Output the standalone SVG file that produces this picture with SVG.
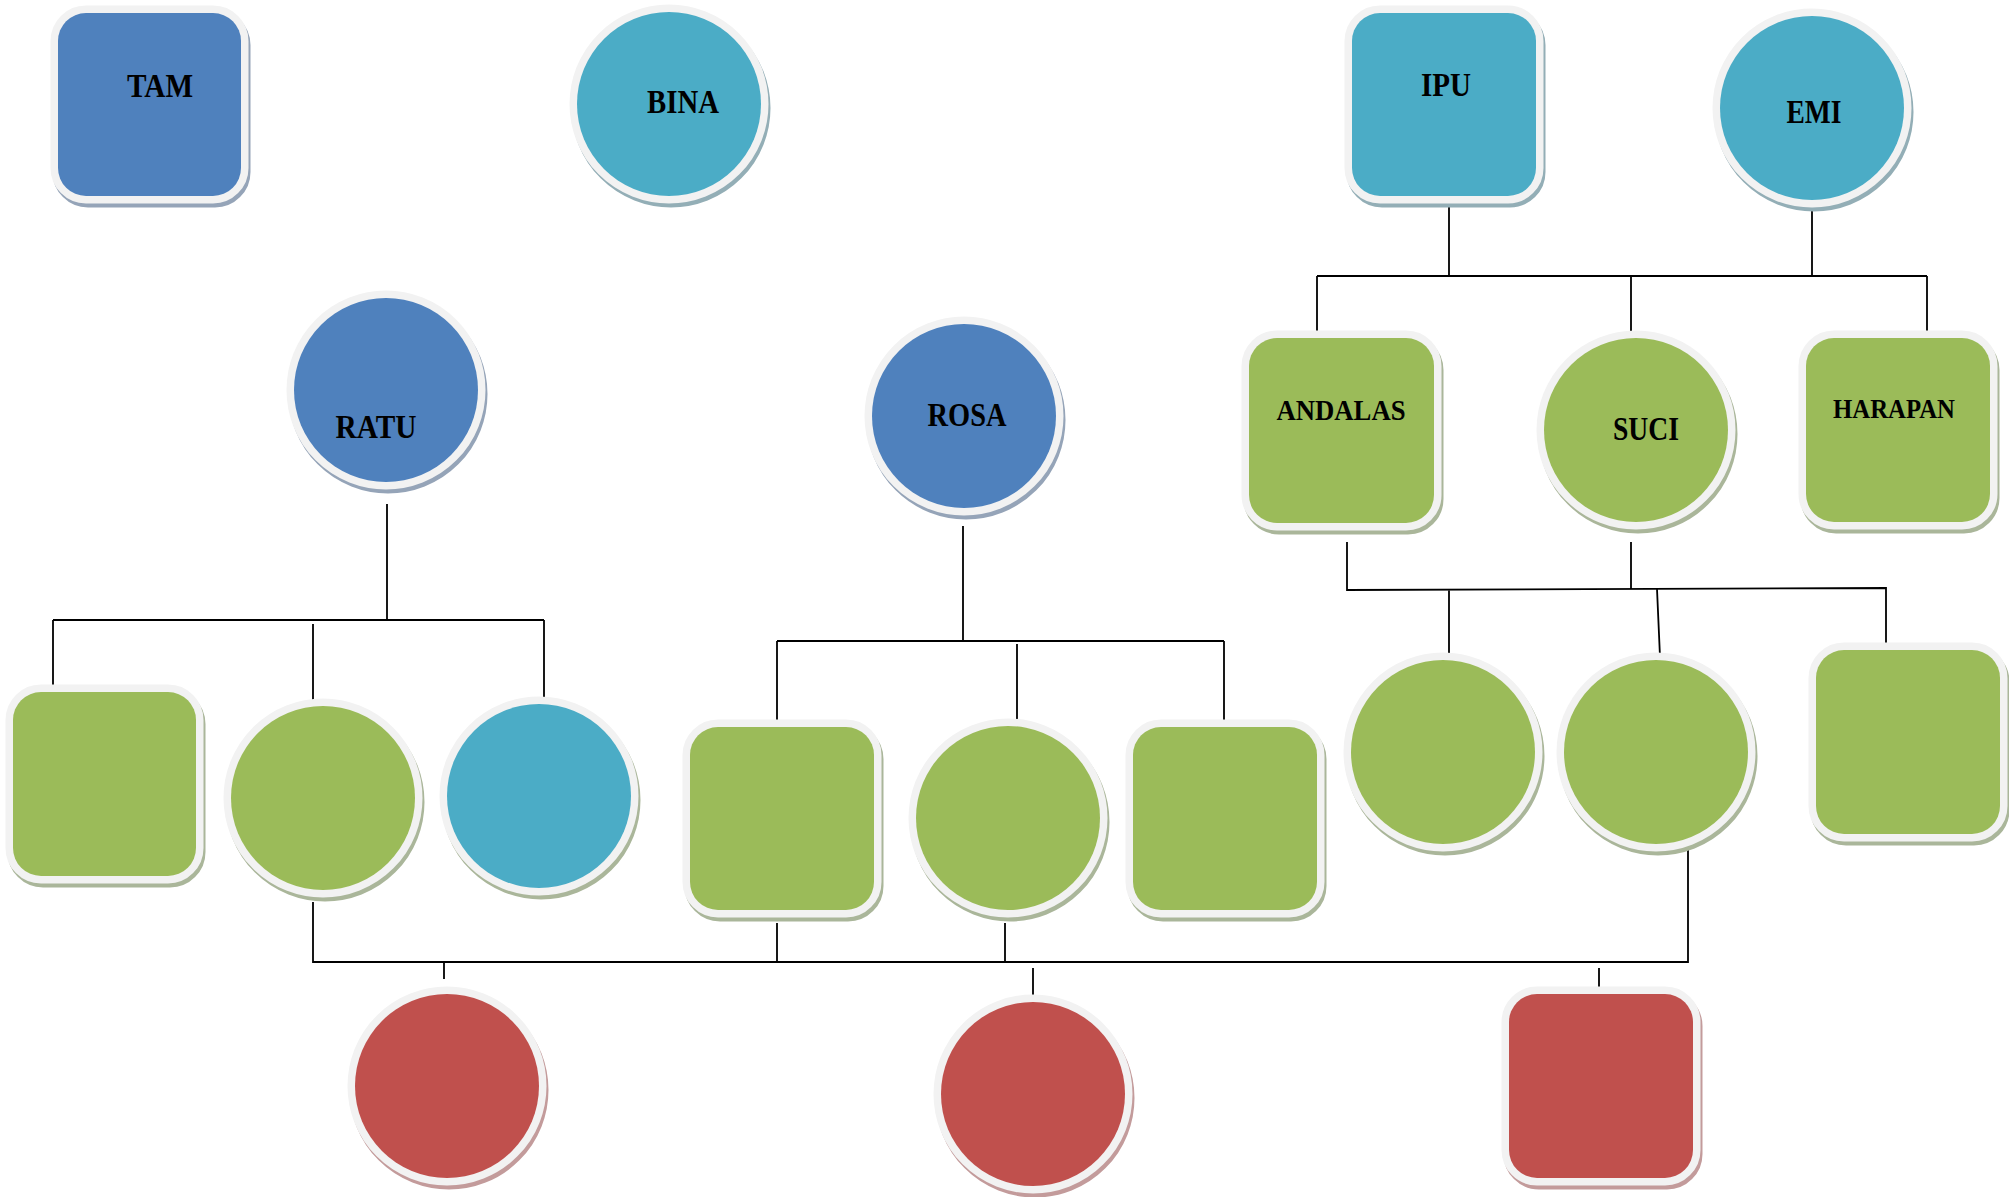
<svg xmlns="http://www.w3.org/2000/svg" width="2009" height="1197" viewBox="0 0 2009 1197">
<style>
.nd{stroke:#F2F2F2;stroke-width:15;paint-order:stroke}
.sh{stroke-width:15}
.blue{fill:#4F81BD}
.cyan{fill:#4BACC6}
.green{fill:#9BBB59}
.red{fill:#C0504D}
.sblue{fill:#95A4B8;stroke:#95A4B8}
.scyan{fill:#93AEB6;stroke:#93AEB6}
.sgreen{fill:#AAB69A;stroke:#AAB69A}
.sred{fill:#C39B9B;stroke:#C39B9B}
.lbl{font-family:"Liberation Serif","Times New Roman",serif;font-weight:bold;font-size:33px;fill:#000;text-anchor:middle}
.cn{fill:none;stroke:#000;stroke-width:1.8}
</style>
<rect width="2009" height="1197" fill="#fff"/>
<g id="connectors">
<path class="cn" d="M1449 205V276M1317 276H1927M1812 211V276M1317 276V335M1631 276V335M1927 276V335"/>
<path class="cn" d="M387 504V620M53 620H544M53 620V688M313 624V702M544 620V700"/>
<path class="cn" d="M963 526V641M777 641H1224M777 641V720M1017 644V722M1224 641V722"/>
<path class="cn" d="M1347 542V590L1886 588V647M1631 542V589M1449 590V657M1657 589L1660 657"/>
<path class="cn" d="M313 902V962H1688V849M777 923V962M1005 923V962M444 962V979M1033 968V999M1599 968V991"/>
</g>
<g id="tam">
<rect class="sh sblue" x="60" y="17" width="183" height="183" rx="28"/>
<rect class="nd blue" x="58" y="13" width="183" height="183" rx="28"/>
<text class="lbl" x="160" y="97" textLength="66" lengthAdjust="spacingAndGlyphs">TAM</text>
</g>
<g id="bina">
<ellipse class="sh scyan" cx="671" cy="108" rx="92" ry="92"/>
<ellipse class="nd cyan" cx="669" cy="104" rx="92" ry="92"/>
<text class="lbl" x="683" y="113" textLength="72" lengthAdjust="spacingAndGlyphs">BINA</text>
</g>
<g id="ipu">
<rect class="sh scyan" x="1354" y="17" width="184" height="183" rx="28"/>
<rect class="nd cyan" x="1352" y="13" width="184" height="183" rx="28"/>
<text class="lbl" x="1446" y="96" textLength="50" lengthAdjust="spacingAndGlyphs">IPU</text>
</g>
<g id="emi">
<ellipse class="sh scyan" cx="1814" cy="112" rx="92" ry="92"/>
<ellipse class="nd cyan" cx="1812" cy="108" rx="92" ry="92"/>
<text class="lbl" x="1814" y="123" textLength="55" lengthAdjust="spacingAndGlyphs">EMI</text>
</g>
<g id="ratu">
<ellipse class="sh sblue" cx="388" cy="394" rx="92" ry="92"/>
<ellipse class="nd blue" cx="386" cy="390" rx="92" ry="92"/>
<text class="lbl" x="376" y="438" textLength="81" lengthAdjust="spacingAndGlyphs">RATU</text>
</g>
<g id="rosa">
<ellipse class="sh sblue" cx="966" cy="420" rx="92" ry="92"/>
<ellipse class="nd blue" cx="964" cy="416" rx="92" ry="92"/>
<text class="lbl" x="967" y="426" textLength="79" lengthAdjust="spacingAndGlyphs">ROSA</text>
</g>
<g id="andalas">
<rect class="sh sgreen" x="1251" y="342" width="185" height="185" rx="28"/>
<rect class="nd green" x="1249" y="338" width="185" height="185" rx="28"/>
<text class="lbl" x="1341" y="420" style="font-size:30px" textLength="129" lengthAdjust="spacingAndGlyphs">ANDALAS</text>
</g>
<g id="suci">
<ellipse class="sh sgreen" cx="1638" cy="434" rx="92" ry="92"/>
<ellipse class="nd green" cx="1636" cy="430" rx="92" ry="92"/>
<text class="lbl" x="1646" y="440" textLength="66" lengthAdjust="spacingAndGlyphs">SUCI</text>
</g>
<g id="harapan">
<rect class="sh sgreen" x="1808" y="342" width="184" height="184" rx="28"/>
<rect class="nd green" x="1806" y="338" width="184" height="184" rx="28"/>
<text class="lbl" x="1894" y="418" style="font-size:27px" textLength="122" lengthAdjust="spacingAndGlyphs">HARAPAN</text>
</g>
<g id="ratu-child-1">
<rect class="sh sgreen" x="15" y="696" width="183" height="184" rx="28"/>
<rect class="nd green" x="13" y="692" width="183" height="184" rx="28"/>
</g>
<g id="ratu-child-2">
<ellipse class="sh sgreen" cx="325" cy="802" rx="92" ry="92"/>
<ellipse class="nd green" cx="323" cy="798" rx="92" ry="92"/>
</g>
<g id="ratu-child-3">
<ellipse class="sh sgreen" cx="541" cy="800" rx="92" ry="92"/>
<ellipse class="nd cyan" cx="539" cy="796" rx="92" ry="92"/>
</g>
<g id="rosa-child-1">
<rect class="sh sgreen" x="692" y="731" width="184" height="183" rx="28"/>
<rect class="nd green" x="690" y="727" width="184" height="183" rx="28"/>
</g>
<g id="rosa-child-2">
<ellipse class="sh sgreen" cx="1010" cy="822" rx="92" ry="92"/>
<ellipse class="nd green" cx="1008" cy="818" rx="92" ry="92"/>
</g>
<g id="rosa-child-3">
<rect class="sh sgreen" x="1135" y="731" width="184" height="183" rx="28"/>
<rect class="nd green" x="1133" y="727" width="184" height="183" rx="28"/>
</g>
<g id="as-child-1">
<ellipse class="sh sgreen" cx="1445" cy="756" rx="92" ry="92"/>
<ellipse class="nd green" cx="1443" cy="752" rx="92" ry="92"/>
</g>
<g id="as-child-2">
<ellipse class="sh sgreen" cx="1658" cy="756" rx="92" ry="92"/>
<ellipse class="nd green" cx="1656" cy="752" rx="92" ry="92"/>
</g>
<g id="as-child-3">
<rect class="sh sgreen" x="1818" y="654" width="184" height="184" rx="28"/>
<rect class="nd green" x="1816" y="650" width="184" height="184" rx="28"/>
</g>
<g id="grandchild-1">
<ellipse class="sh sred" cx="449" cy="1090" rx="92" ry="92"/>
<ellipse class="nd red" cx="447" cy="1086" rx="92" ry="92"/>
</g>
<g id="grandchild-2">
<ellipse class="sh sred" cx="1035" cy="1098" rx="92" ry="92"/>
<ellipse class="nd red" cx="1033" cy="1094" rx="92" ry="92"/>
</g>
<g id="grandchild-3">
<rect class="sh sred" x="1511" y="998" width="184" height="184" rx="28"/>
<rect class="nd red" x="1509" y="994" width="184" height="184" rx="28"/>
</g>
</svg>
